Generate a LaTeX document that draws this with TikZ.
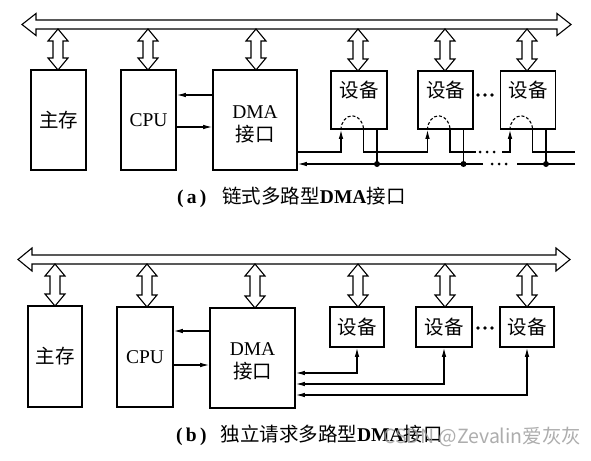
\documentclass[tikz,border=0pt]{standalone}
\usepackage{fontspec}
\setmainfont{Liberation Serif}
\newfontfamily\cjk{Noto Sans CJK SC}
\usetikzlibrary{arrows.meta}
\newcommand\vdarr[3]{%
  \draw[hollow] (#1,#2) -- (#1+10,#2+12) -- (#1+5,#2+12) -- (#1+5,#3-12) -- (#1+10,#3-12) -- (#1,#3)
   -- (#1-10,#3-12) -- (#1-5,#3-12) -- (#1-5,#2+12) -- (#1-10,#2+12) -- cycle;}
\newcommand\busarr[5]{%
  \draw[hollow] (#1,#3) -- (#1+14,#3-#5) -- (#1+14,#3-#4) -- (#2-14,#3-#4) -- (#2-14,#3-#5) -- (#2,#3)
   -- (#2-14,#3+#5) -- (#2-14,#3+#4) -- (#1+14,#3+#4) -- (#1+14,#3+#5) -- cycle;}
\begin{document}
\begin{tikzpicture}[x=1pt,y=-1pt,
  bx/.style={draw,line width=1.6pt,inner sep=0pt,font=\fontsize{19.5}{23}\selectfont},
  lbl/.style={inner sep=0pt,font=\fontsize{19.5}{23}\selectfont},
  captxt/.style={inner sep=0pt,font=\fontsize{19.5}{23}\selectfont},
  hollow/.style={draw,line width=1.1pt,fill=white,line join=miter},
  wire/.style={line width=1.1pt},
  arr/.style={-{Latex[length=9pt,width=4.5pt]}},
  arrs/.style={{Latex[length=9pt,width=4.5pt]}-{Latex[length=9pt,width=4.5pt]}},
  dash arc/.style={line width=1.1pt,dash pattern=on 3pt off 2pt},
  jdot/.style={fill=black},
]
\useasboundingbox (0,0) rectangle (591,460);
\fill[white] (0,0) rectangle (591,460);

% ================= (a) =================
\busarr{22}{571}{24.5}{4.5}{11}
\foreach \x/\y in {58/70,148/70,256/70,358/71,445/71,527/71} {\vdarr{\x}{29}{\y}}

\node[bx,minimum width=55,minimum height=100] (mem_a) at (58.5,120) {\cjk 主存};
\node[bx,minimum width=55,minimum height=100] (cpu_a) at (148.5,120) {CPU};
\node[bx,minimum width=84,minimum height=100] (dma_a) at (255,120) {};
\node[lbl,align=center] (dma_at) at (255,124) {DMA\\{\cjk 接口}};

\node[bx,minimum width=56,minimum height=58] (d1a) at (359,100) {};
\node[bx,minimum width=55,minimum height=58] (d2a) at (445.5,100) {};
\node[bx,minimum width=55,minimum height=58] (d3a) at (528,100) {};
\foreach \d in {d1a,d2a,d3a} {
  \node[lbl] (\d-t) at ([yshift=10pt]\d.center) {\cjk 设备};
  \coordinate (\d-gin) at ([xshift=-18pt]\d.south);
  \coordinate (\d-gout) at ([xshift=4.5pt]\d.south);
  \coordinate (\d-req) at ([xshift=18pt]\d.south);
  \draw[dash arc] (\d-gin) arc[start angle=180,end angle=0,x radius=11.25pt,y radius=14pt];
}
\foreach \x in {478,485,492} \fill (\x,95) circle (1.8);

\draw[wire,arr] (dma_a.west |- 0,95) -- (cpu_a.east |- 0,95);
\draw[wire,arr] (cpu_a.east |- 0,127) -- (dma_a.west |- 0,127);

% grant chain
\coordinate (ga) at (0,152);
\coordinate (gapl) at (476,152);
\coordinate (gapr) at (502,152);
\coordinate (gend) at (575,152);
\draw[wire,arr] (dma_a.east |- ga) -| (d1a-gin);
\draw[wire,arr] (d1a-gout) -- (d1a-gout |- ga) -| (d2a-gin);
\draw[wire] (d2a-gout) |- (gapl);
\draw[wire,arr] (gapr) -| (d3a-gin);
\draw[wire] (d3a-gout) |- (gend);
\foreach \x in {480,487,494} \fill (\x,152) circle (1.5);

% request line
\coordinate (ra) at (0,164);
\coordinate (rgapl) at (483,164);
\coordinate (rgapr) at (517,164);
\coordinate (rend) at (575,164);
\foreach \d in {d1a,d2a,d3a} {
  \draw[wire] (\d-req) -- (\d-req |- ra);
  \fill[jdot] (\d-req |- ra) circle (3);
}
\draw[wire,arr] (rgapl) -- (dma_a.east |- ra);
\draw[wire] (rend) -- (rgapr);
\foreach \x in {492,499,506} \fill (\x,164) circle (1.5);

\node[captxt,anchor=west] (cap_a) at (177,197) {\textbf{(\,a\,)}\hspace{16pt}{\cjk 链式多路型}\textbf{DMA}{\cjk 接口}};

% ================= (b) =================
\busarr{18}{570}{259.5}{4.5}{11.5}
\foreach \x/\y in {55/306,147/307,255/308,358/307,445/307,527/307} {\vdarr{\x}{264}{\y}}

\node[bx,minimum width=54,minimum height=101] (mem_b) at (55,356.5) {\cjk 主存};
\node[bx,minimum width=56,minimum height=100] (cpu_b) at (145,357) {CPU};
\node[bx,minimum width=85,minimum height=100] (dma_b) at (252.5,358) {};
\node[lbl,align=center] (dma_bt) at (252.5,361) {DMA\\{\cjk 接口}};

\node[bx,minimum width=54,minimum height=40] (d1b) at (357,327) {\cjk 设备};
\node[bx,minimum width=56,minimum height=40] (d2b) at (444,327) {\cjk 设备};
\node[bx,minimum width=54,minimum height=40] (d3b) at (527,327) {\cjk 设备};
\foreach \x in {478,485,492} \fill (\x,328) circle (1.8);

\draw[wire,arr] (dma_b.west |- 0,331) -- (cpu_b.east |- 0,331);
\draw[wire,arr] (cpu_b.east |- 0,365) -- (dma_b.west |- 0,365);

\draw[wire,arrs] (dma_b.east |- 0,373) -| (d1b.south);
\draw[wire,arrs] (dma_b.east |- 0,384) -| (d2b.south);
\draw[wire,arrs] (dma_b.east |- 0,395) -| (d3b.south);

\node[captxt,anchor=west] (cap_b) at (176,435) {\textbf{(\,b\,)}\hspace{14pt}{\cjk 独立请求多路型}\textbf{DMA}{\cjk 接口}};
\node[lbl,anchor=west,text=gray!75,opacity=0.85] (wm) at (383,437) {\cjk CSDN @Zevalin爱灰灰};
\end{tikzpicture}
\end{document}
